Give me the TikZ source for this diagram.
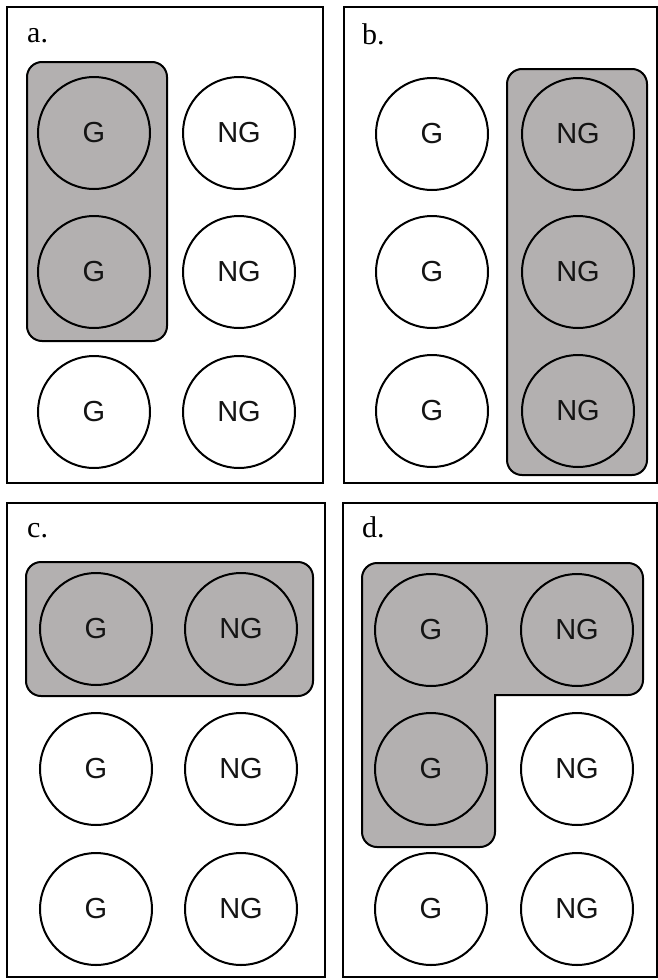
\documentclass[tikz,border=0pt]{standalone}
\usepackage{fontspec}
\setmainfont{Liberation Serif}
\newfontfamily\circfont{Liberation Sans}
\definecolor{boxgray}{RGB}{179,176,176}
\definecolor{txt}{RGB}{20,20,20}
\tikzset{
  panel/.style={draw=black, line width=2pt},
  graybox/.style={draw=black, fill=boxgray, line width=2pt, rounded corners=15pt},
  disc/.style={circle, draw=black, line width=2pt, minimum size=112pt, inner sep=0pt,
    font=\circfont\fontsize{29}{29}\selectfont, text=txt},
  plabel/.style={anchor=base west, inner sep=0pt, font=\fontsize{30}{30}\selectfont}
}
\begin{document}
\begin{tikzpicture}[x=1pt,y=-1pt]
\useasboundingbox (0,0) rectangle (658,980);
\fill[white] (0,0) rectangle (658,980);
% panel frames
\draw[panel] (7,7) rectangle (323,483);
\draw[panel] (344,7) rectangle (657,483);
\draw[panel] (7,503) rectangle (325,977);
\draw[panel] (343,503) rectangle (657,977);
% labels
\node[plabel] (la) at (27,42) {a.};
\node[plabel] (lb) at (362,44) {b.};
\node[plabel] (lc) at (27,537) {c.};
\node[plabel] (ld) at (362,537) {d.};
% gray groups
\draw[graybox] (27,62) rectangle (167,341);
\draw[graybox] (507,69) rectangle (647,475);
\draw[graybox] (26,562) rectangle (313,696);
\draw[graybox, line cap=rect] (495,695) -- (643,695) -- (643,563) -- (362,563) -- (362,847) -- (495,847) -- (495,695);
% panel a
\node[disc] (a1) at (94,133) {G};
\node[disc] (a2) at (239,133) {NG};
\node[disc] (a3) at (94,272) {G};
\node[disc] (a4) at (239,272) {NG};
\node[disc] (a5) at (94,412) {G};
\node[disc] (a6) at (239,412) {NG};
% panel b
\node[disc] (b1) at (432,134) {G};
\node[disc] (b2) at (578,134) {NG};
\node[disc] (b3) at (432,272) {G};
\node[disc] (b4) at (578,272) {NG};
\node[disc] (b5) at (432,411) {G};
\node[disc] (b6) at (578,411) {NG};
% panel c
\node[disc] (c1) at (96,629) {G};
\node[disc] (c2) at (241,629) {NG};
\node[disc] (c3) at (96,769) {G};
\node[disc] (c4) at (241,769) {NG};
\node[disc] (c5) at (96,909) {G};
\node[disc] (c6) at (241,909) {NG};
% panel d
\node[disc] (d1) at (431,630) {G};
\node[disc] (d2) at (577,630) {NG};
\node[disc] (d3) at (431,769) {G};
\node[disc] (d4) at (577,769) {NG};
\node[disc] (d5) at (431,909) {G};
\node[disc] (d6) at (577,909) {NG};
\end{tikzpicture}
\end{document}
